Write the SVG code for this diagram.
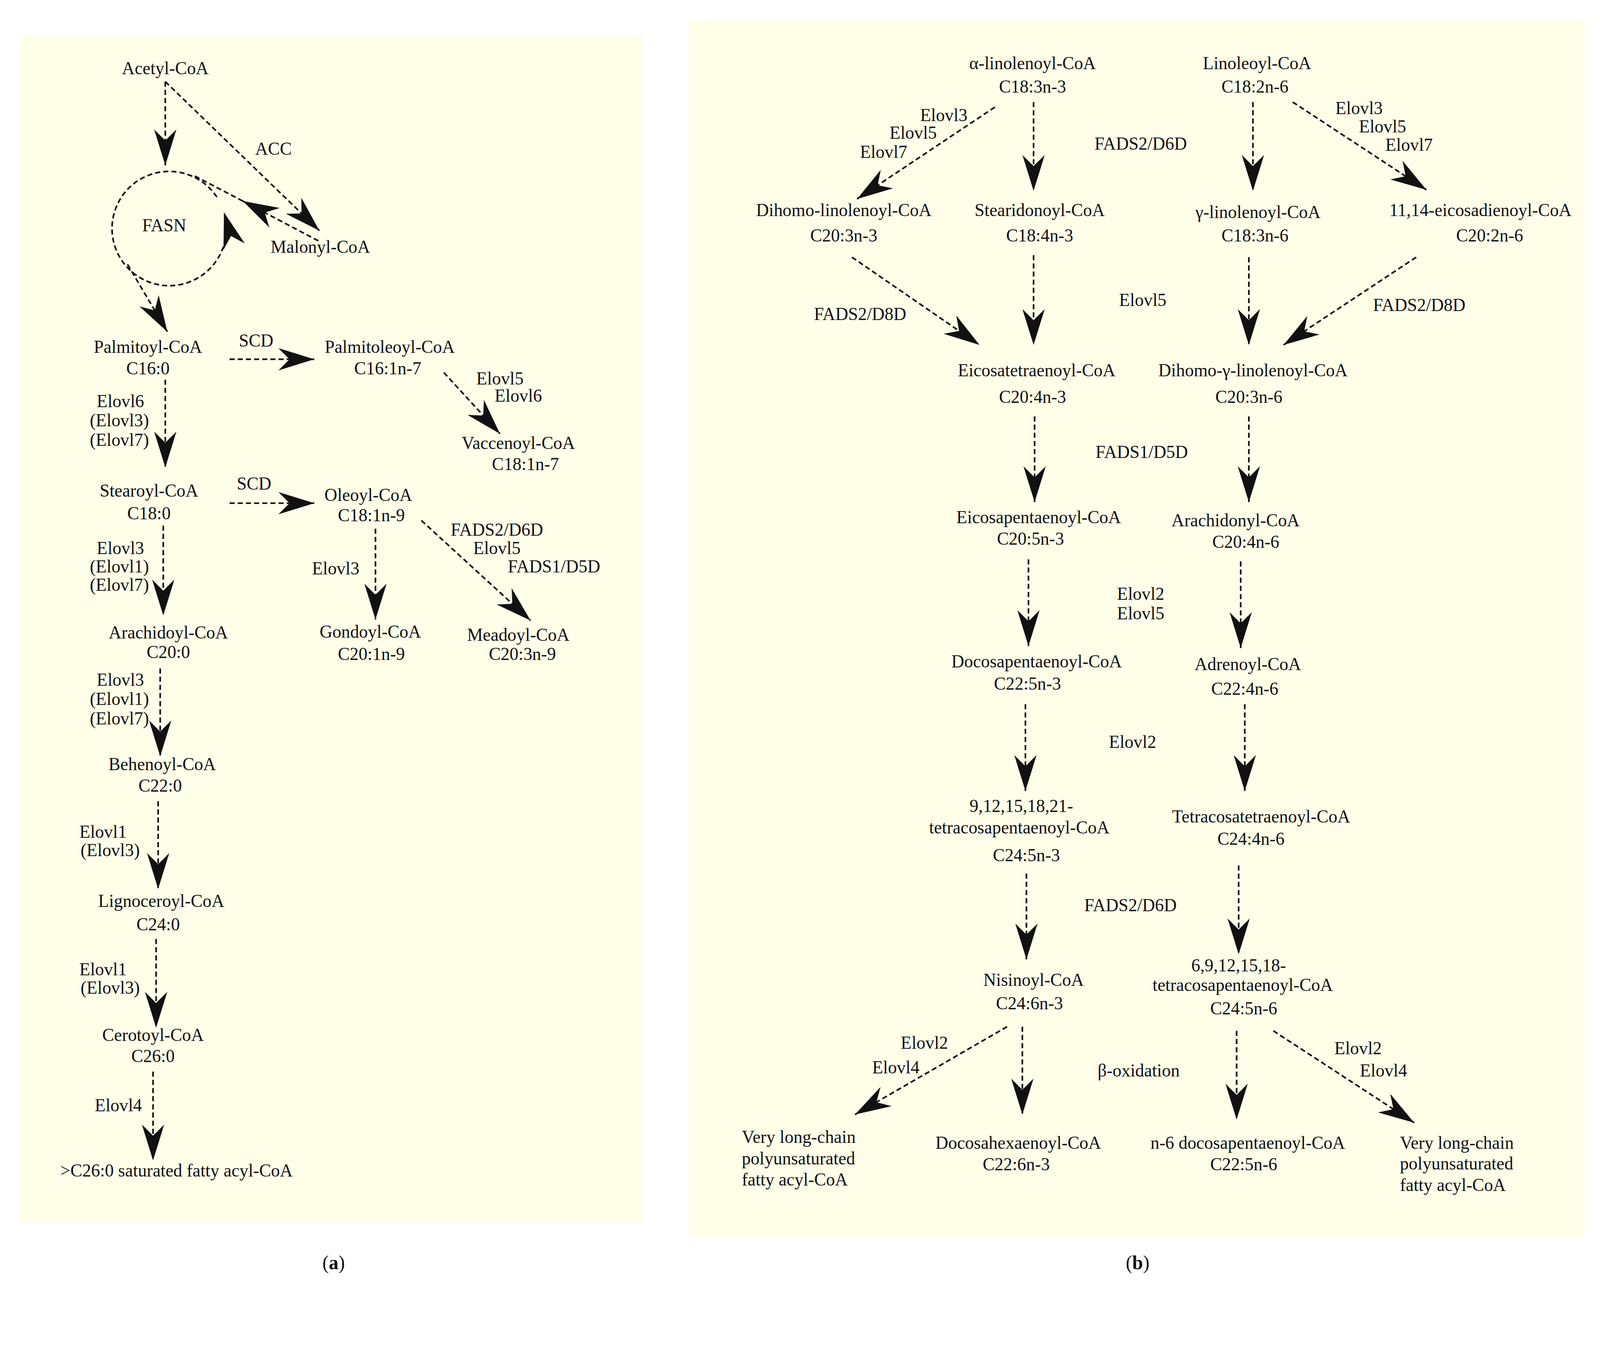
<svg xmlns="http://www.w3.org/2000/svg" width="4323" height="3478" viewBox="0 0 4323 3478">
<style>
text{font-family:"Liberation Serif","Times New Roman",serif;font-size:17.4px;fill:#111;text-anchor:middle;dominant-baseline:central}
.l{text-anchor:start}
.c{fill:none;stroke:#111;stroke-width:1.6;stroke-dasharray:5 3}
.cap{font-size:19px}
</style>
<defs>
<marker id="ah" markerUnits="userSpaceOnUse" markerWidth="40" markerHeight="30" viewBox="-31 -11 33 22" refX="0" refY="0" orient="auto">
<path d="M0,0 L-29,-9 L-20,0 L-29,9 Z" fill="#111"/>
</marker>
</defs>
<rect width="4323" height="3478" fill="#fff"/>
<g transform="scale(2.612)">
<rect id="panel-a" x="20" y="35" width="610" height="1162" fill="#fefee9"/>
<rect id="panel-b" x="676" y="20" width="877" height="1192" fill="#fefee9"/>
<g id="connectors">
<path class="c" d="M162,80 L162,162" marker-end="url(#ah)"/>
<path class="c" d="M162,80 L313,226" marker-end="url(#ah)"/>
<path class="c" d="M312,236 L238,197" marker-end="url(#ah)"/>
<path class="c" d="M238,197 L190,172"/>
<path class="c" d="M212.5,193 A56,56 0 1 0 219.5,208" marker-end="url(#ah)"/>
<path class="c" d="M125,259 L164,325" marker-end="url(#ah)"/>
<path class="c" d="M225,352 L308,352" marker-end="url(#ah)"/>
<path class="c" d="M435,365 L490,425" marker-end="url(#ah)"/>
<path class="c" d="M162,372 L162,458" marker-end="url(#ah)"/>
<path class="c" d="M225,493 L308,493" marker-end="url(#ah)"/>
<path class="c" d="M413,510 L520,608" marker-end="url(#ah)"/>
<path class="c" d="M368,518 L368,607" marker-end="url(#ah)"/>
<path class="c" d="M160,515 L160,603" marker-end="url(#ah)"/>
<path class="c" d="M157,655 L157,741" marker-end="url(#ah)"/>
<path class="c" d="M155,785 L155,871" marker-end="url(#ah)"/>
<path class="c" d="M153,920 L153,1007" marker-end="url(#ah)"/>
<path class="c" d="M150,1050 L150,1137" marker-end="url(#ah)"/>
<path class="c" d="M975,105 L840,195" marker-end="url(#ah)"/>
<path class="c" d="M1013,100 L1013,187" marker-end="url(#ah)"/>
<path class="c" d="M1228,100 L1228,187" marker-end="url(#ah)"/>
<path class="c" d="M1267,100 L1398,186" marker-end="url(#ah)"/>
<path class="c" d="M835,252 L960,338" marker-end="url(#ah)"/>
<path class="c" d="M1013,250 L1013,338" marker-end="url(#ah)"/>
<path class="c" d="M1224,252 L1224,338" marker-end="url(#ah)"/>
<path class="c" d="M1388,252 L1258,338" marker-end="url(#ah)"/>
<path class="c" d="M1014,408 L1014,492" marker-end="url(#ah)"/>
<path class="c" d="M1224,408 L1224,492" marker-end="url(#ah)"/>
<path class="c" d="M1008,548 L1008,633" marker-end="url(#ah)"/>
<path class="c" d="M1216,550 L1216,635" marker-end="url(#ah)"/>
<path class="c" d="M1005,690 L1005,775" marker-end="url(#ah)"/>
<path class="c" d="M1220,690 L1220,775" marker-end="url(#ah)"/>
<path class="c" d="M1006,856 L1006,940" marker-end="url(#ah)"/>
<path class="c" d="M1214,848 L1214,935" marker-end="url(#ah)"/>
<path class="c" d="M987,1006 L838,1092" marker-end="url(#ah)"/>
<path class="c" d="M1002,1006 L1002,1092" marker-end="url(#ah)"/>
<path class="c" d="M1212,1010 L1212,1097" marker-end="url(#ah)"/>
<path class="c" d="M1248,1010 L1386,1100" marker-end="url(#ah)"/>
</g>
<g id="labels">
<text x="268" y="146">ACC</text>
<text x="251" y="334">SCD</text>
<text x="490" y="371">Elovl5</text><text x="508" y="388">Elovl6</text>
<text x="118" y="393">Elovl6</text><text x="117" y="412">(Elovl3)</text><text x="117" y="431">(Elovl7)</text>
<text x="249" y="474">SCD</text>
<text x="487" y="519">FADS2/D6D</text><text x="487" y="537">Elovl5</text><text x="543" y="555">FADS1/D5D</text>
<text x="329" y="557">Elovl3</text>
<text x="118" y="537">Elovl3</text><text x="117" y="555">(Elovl1)</text><text x="117" y="573">(Elovl7)</text>
<text x="118" y="666">Elovl3</text><text x="117" y="685">(Elovl1)</text><text x="117" y="704">(Elovl7)</text>
<text x="101" y="815">Elovl1</text><text x="108" y="833">(Elovl3)</text>
<text x="101" y="950">Elovl1</text><text x="108" y="968">(Elovl3)</text>
<text x="116" y="1083">Elovl4</text>
<text x="925" y="113">Elovl3</text><text x="895" y="130">Elovl5</text><text x="866" y="149">Elovl7</text>
<text x="1118" y="141">FADS2/D6D</text>
<text x="1332" y="106">Elovl3</text><text x="1355" y="124">Elovl5</text><text x="1381" y="142">Elovl7</text>
<text x="843" y="308">FADS2/D8D</text>
<text x="1120" y="294">Elovl5</text>
<text x="1391" y="299">FADS2/D8D</text>
<text x="1119" y="443">FADS1/D5D</text>
<text x="1118" y="582">Elovl2</text><text x="1118" y="601">Elovl5</text>
<text x="1110" y="727">Elovl2</text>
<text x="1108" y="887">FADS2/D6D</text>
<text x="906" y="1022">Elovl2</text><text x="878" y="1046">Elovl4</text>
<text x="1116" y="1049">β-oxidation</text>
<text x="1331" y="1027">Elovl2</text><text x="1356" y="1049">Elovl4</text>
<text class="cap" x="327" y="1237">(<tspan font-weight="bold">a</tspan>)</text>
<text class="cap" x="1115" y="1237">(<tspan font-weight="bold">b</tspan>)</text>
</g>
<g id="acetyl"><text x="162" y="67">Acetyl-CoA</text></g>
<g id="fasn"><text x="161" y="221">FASN</text></g>
<g id="malonyl"><text x="314" y="242">Malonyl-CoA</text></g>
<g id="palmitoyl"><text x="145" y="340">Palmitoyl-CoA</text><text x="145" y="361">C16:0</text></g>
<g id="palmitoleoyl"><text x="382" y="340">Palmitoleoyl-CoA</text><text x="380" y="361">C16:1n-7</text></g>
<g id="vaccenoyl"><text x="508" y="434">Vaccenoyl-CoA</text><text x="515" y="455">C18:1n-7</text></g>
<g id="stearoyl"><text x="146" y="481">Stearoyl-CoA</text><text x="146" y="503">C18:0</text></g>
<g id="oleoyl"><text x="361" y="485">Oleoyl-CoA</text><text x="364" y="505">C18:1n-9</text></g>
<g id="gondoyl"><text x="363" y="619">Gondoyl-CoA</text><text x="364" y="641">C20:1n-9</text></g>
<g id="meadoyl"><text x="508" y="622">Meadoyl-CoA</text><text x="512" y="641">C20:3n-9</text></g>
<g id="arachidoyl"><text x="165" y="620">Arachidoyl-CoA</text><text x="165" y="639">C20:0</text></g>
<g id="behenoyl"><text x="159" y="749">Behenoyl-CoA</text><text x="157" y="770">C22:0</text></g>
<g id="lignoceroyl"><text x="158" y="883">Lignoceroyl-CoA</text><text x="155" y="906">C24:0</text></g>
<g id="cerotoyl"><text x="150" y="1014">Cerotoyl-CoA</text><text x="150" y="1035">C26:0</text></g>
<g id="c26plus"><text x="173" y="1147">&gt;C26:0 saturated fatty acyl-CoA</text></g>
<g id="alinolenoyl"><text x="1012" y="62">α-linolenoyl-CoA</text><text x="1012" y="85">C18:3n-3</text></g>
<g id="linoleoyl"><text x="1232" y="62">Linoleoyl-CoA</text><text x="1230" y="85">C18:2n-6</text></g>
<g id="dihomolinolenoyl"><text x="827" y="206">Dihomo-linolenoyl-CoA</text><text x="827" y="231">C20:3n-3</text></g>
<g id="stearidonoyl"><text x="1019" y="206">Stearidonoyl-CoA</text><text x="1019" y="231">C18:4n-3</text></g>
<g id="glinolenoyl"><text x="1233" y="208">γ-linolenoyl-CoA</text><text x="1230" y="231">C18:3n-6</text></g>
<g id="eicosadienoyl"><text x="1451" y="206">11,14-eicosadienoyl-CoA</text><text x="1460" y="231">C20:2n-6</text></g>
<g id="eicosatetraenoyl"><text x="1016" y="363">Eicosatetraenoyl-CoA</text><text x="1012" y="389">C20:4n-3</text></g>
<g id="dgla"><text x="1228" y="363">Dihomo-γ-linolenoyl-CoA</text><text x="1224" y="389">C20:3n-6</text></g>
<g id="epa"><text x="1018" y="507">Eicosapentaenoyl-CoA</text><text x="1010" y="528">C20:5n-3</text></g>
<g id="arachidonyl"><text x="1211" y="510">Arachidonyl-CoA</text><text x="1221" y="531">C20:4n-6</text></g>
<g id="dpa3"><text x="1016" y="648">Docosapentaenoyl-CoA</text><text x="1007" y="670">C22:5n-3</text></g>
<g id="adrenoyl"><text x="1223" y="651">Adrenoyl-CoA</text><text x="1220" y="675">C22:4n-6</text></g>
<g id="tpa3"><text x="1001" y="790">9,12,15,18,21-</text><text x="999" y="811">tetracosapentaenoyl-CoA</text><text x="1006" y="838">C24:5n-3</text></g>
<g id="tetracosatetraenoyl"><text x="1236" y="800">Tetracosatetraenoyl-CoA</text><text x="1226" y="822">C24:4n-6</text></g>
<g id="nisinoyl"><text x="1013" y="960">Nisinoyl-CoA</text><text x="1009" y="983">C24:6n-3</text></g>
<g id="tpa6"><text x="1214" y="946">6,9,12,15,18-</text><text x="1218" y="965">tetracosapentaenoyl-CoA</text><text x="1219" y="988">C24:5n-6</text></g>
<g id="vlc-left"><text class="l" x="727" y="1114">Very long-chain</text><text class="l" x="727" y="1135">polyunsaturated</text><text class="l" x="727" y="1156">fatty acyl-CoA</text></g>
<g id="dha"><text x="998" y="1120">Docosahexaenoyl-CoA</text><text x="996" y="1141">C22:6n-3</text></g>
<g id="dpa6"><text x="1223" y="1120">n-6 docosapentaenoyl-CoA</text><text x="1219" y="1141">C22:5n-6</text></g>
<g id="vlc-right"><text class="l" x="1372" y="1120">Very long-chain</text><text class="l" x="1372" y="1140">polyunsaturated</text><text class="l" x="1372" y="1161">fatty acyl-CoA</text></g>
</g>
</svg>
